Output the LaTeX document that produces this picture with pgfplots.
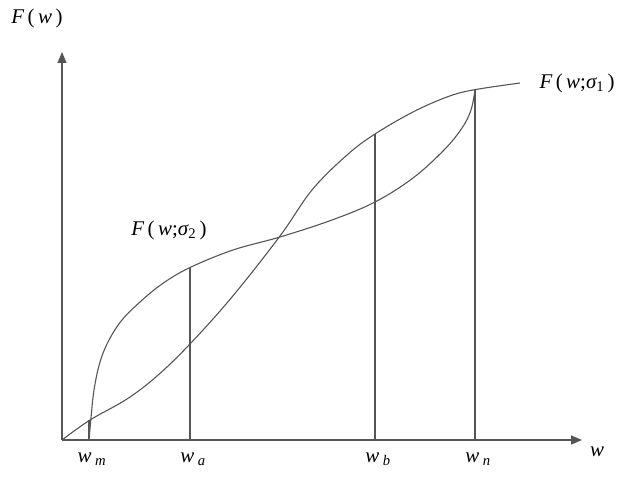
\documentclass[border=0pt]{standalone}
\usepackage{fontspec}
\setmainfont{Liberation Serif}
\usepackage{pgfplots}
\pgfplotsset{compat=1.18}
\usetikzlibrary{arrows.meta}
\definecolor{ln}{HTML}{555555}
\begin{document}
\begin{tikzpicture}
\begin{axis}[
  scale only axis, width=520bp, height=388bp,
  xmin=0, xmax=520, ymin=0, ymax=388,
  axis lines=left, clip=false,
  axis line style={draw=ln, line width=1.2pt, -{Triangle[length=11bp,width=9bp]}},
  xtick={27,128,313,413},
  xticklabels={{\itshape w\,\textsubscript{m}},{\itshape w\,\textsubscript{a}},{\itshape w\,\textsubscript{b}},{\itshape w\,\textsubscript{n}}},
  ytick=\empty, major tick length=0pt,
  xticklabel style={font=\fontsize{21}{22}\selectfont, yshift=-9bp, xshift=3bp},
]
\path (axis cs:-62,-41) rectangle (axis cs:573,440);
% F(w;sigma1)
\addplot[ln, line width=1.1pt, smooth, tension=0.6] coordinates {
(0,0)(28,20)(65,41)(95,64)(127,95)(170,143)(218,204)(250,250)
(285,285)(313,306)(351,328)(385,343)(411,350)(458,357)};
% F(w;sigma2)
\addplot[ln, line width=1.1pt, smooth, tension=0.6] coordinates {
(27,0)(29,22)(32,50)(38,78)(47,100)(60,120)(78,138)(100,156)(127,172)
(171,190)(218,203)(270,220)(313,238)(351,262)(382,290)
(400,312)(409,330)(413,350)};
% verticals
\addplot[ln, line width=1.1pt] coordinates {(27,0)(27,20)};
\addplot[ln, line width=1.1pt] coordinates {(128,0)(128,172)};
\addplot[ln, line width=1.1pt] coordinates {(313,0)(313,306)};
\addplot[ln, line width=1.1pt] coordinates {(413,0)(413,350)};
\node[font=\fontsize{21}{22}\selectfont] at (axis cs:-25,422) {\itshape F\,\upshape(\,\itshape w\upshape\,)};
\node[font=\fontsize{21}{22}\selectfont] at (axis cs:535,-12) {\itshape w};
\node[font=\fontsize{21}{22}\selectfont] at (axis cs:107,210) {\itshape F\,\upshape(\,\itshape w\upshape;\itshape σ\textsubscript{\upshape 2}\upshape\,)};
\node[font=\fontsize{21}{22}\selectfont, anchor=west] at (axis cs:474,357) {\itshape F\,\upshape(\,\itshape w\upshape;\itshape σ\textsubscript{\upshape 1}\upshape\,)};
\end{axis}
\end{tikzpicture}
\end{document}
